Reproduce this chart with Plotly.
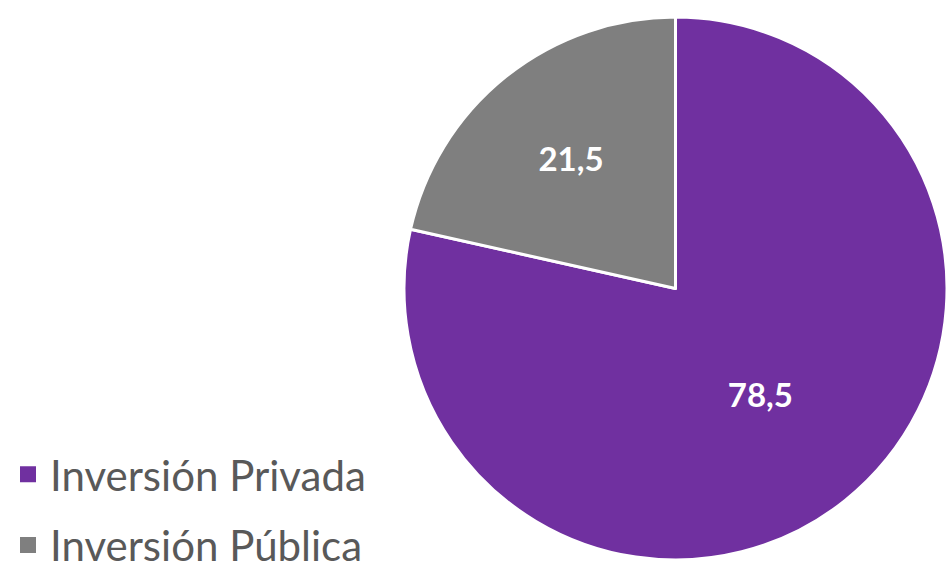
import plotly.graph_objects as go

categories = ["Inversión Privada", "Inversión Pública"]
values = [78.5, 21.5]
value_labels = ["78,5", "21,5"]
colors = ["#7030A0", "#7F7F7F"]

fig = go.Figure()
fig.add_trace(go.Pie(
    labels=categories,
    values=values,
    text=value_labels,
    textinfo="text",
    textposition="inside",
    insidetextfont=dict(family="Lato", size=33, color="white", weight="bold"),
    marker=dict(colors=colors, line=dict(color="white", width=3)),
    sort=False,
    direction="clockwise",
    rotation=0,
    domain=dict(x=[404/947, 1], y=[26/586, 569/586]),
    hoverinfo="label+value",
    showlegend=False,
))

# legend entries (one per category) so row spacing can follow the reference
for name, col in zip(categories, colors):
    fig.add_trace(go.Scatter(
        x=[None], y=[None], mode="markers", name=name,
        marker=dict(symbol="square", size=16, color=col),
        legendgroup=name, showlegend=True, hoverinfo="skip",
    ))

fig.update_layout(
    width=947, height=586,
    margin=dict(l=0, r=0, t=0, b=0),
    paper_bgcolor="white",
    plot_bgcolor="white",
    xaxis=dict(visible=False),
    yaxis=dict(visible=False),
    showlegend=True,
    legend=dict(
        x=6/947, y=0.011, xanchor="left", yanchor="bottom",
        font=dict(family="Lato", size=42, color="#595959"),
        itemsizing="trace",
        tracegroupgap=13,
        itemwidth=34,
        valign="middle",
        bgcolor="rgba(0,0,0,0)",
    ),
)

fig.write_html("out.html", config={"displayModeBar": False},
               post_script="document.body.style.margin='0';")
